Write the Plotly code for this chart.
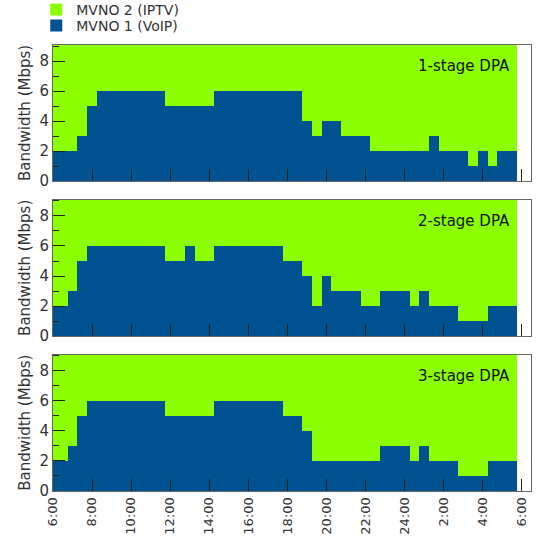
import plotly.graph_objects as go

# Half-hour slots centred at 6:00, 6:30, ... 5:30 (hours after 6:00)
slot_hours = [i * 0.5 for i in range(48)]

mvno1_stage1 = [2, 2, 2, 3, 5, 6, 6, 6, 6, 6, 6, 6,
                5, 5, 5, 5, 5, 6, 6, 6, 6, 6, 6, 6,
                6, 6, 4, 3, 4, 4, 3, 3, 3, 2, 2, 2,
                2, 2, 2, 3, 2, 2, 2, 1, 2, 1, 2, 2]
mvno1_stage2 = [2, 2, 3, 5, 6, 6, 6, 6, 6, 6, 6, 6,
                5, 5, 6, 5, 5, 6, 6, 6, 6, 6, 6, 6,
                5, 5, 4, 2, 4, 3, 3, 3, 2, 2, 3, 3,
                3, 2, 3, 2, 2, 2, 1, 1, 1, 2, 2, 2]
mvno1_stage3 = [2, 2, 3, 5, 6, 6, 6, 6, 6, 6, 6, 6,
                5, 5, 5, 5, 5, 6, 6, 6, 6, 6, 6, 6,
                5, 5, 4, 2, 2, 2, 2, 2, 2, 2, 3, 3,
                3, 2, 3, 2, 2, 2, 1, 1, 1, 2, 2, 2]
capacity = 9.1  # shared link capacity; MVNO 2 gets the remainder

panel_names = ["1-stage DPA", "2-stage DPA", "3-stage DPA"]
panels = [mvno1_stage1, mvno1_stage2, mvno1_stage3]

tick_hours = [0, 2, 4, 6, 8, 10, 12, 14, 16, 18, 20, 22, 24]
tick_labels = ["6:00", "8:00", "10:00", "12:00", "14:00", "16:00", "18:00",
               "20:00", "22:00", "24:00", "2:00", "4:00", "6:00"]
y_ticks = [0, 2, 4, 6, 8]

BLUE = "#005291"
GREEN = "#8cff00"
FONT = "DejaVu Sans"
TXT = "#333333"

# vertical domains (paper) for 3 panels
domains = [[0.6946, 1.0], [0.3473, 0.6527], [0.0, 0.3054]]

fig = go.Figure()
for i, vals in enumerate(panels):
    n = i + 1
    xa = "x" if n == 1 else f"x{n}"
    ya = "y" if n == 1 else f"y{n}"
    fig.add_trace(go.Bar(x=slot_hours, y=vals, width=0.5, marker=dict(color=BLUE, line=dict(width=0)),
                         name="MVNO 1 (VoIP)", legendgroup="m1", showlegend=(n == 1),
                         legend="legend2", xaxis=xa, yaxis=ya))
    fig.add_trace(go.Bar(x=slot_hours, y=[capacity - v for v in vals], width=0.5,
                         marker=dict(color=GREEN, line=dict(width=0)),
                         name="MVNO 2 (IPTV)", legendgroup="m2", showlegend=(n == 1),
                         legend="legend", xaxis=xa, yaxis=ya))

leg_common = dict(x=-0.035, xanchor="left", yanchor="middle",
                  font=dict(size=14, color=TXT, family=FONT), bgcolor="rgba(0,0,0,0)")
layout = dict(
    width=537, height=544,
    margin=dict(l=53, r=6, t=45, b=53, autoexpand=False),
    paper_bgcolor="white", plot_bgcolor="white",
    barmode="stack", bargap=0,
    font=dict(family=FONT, size=14, color=TXT),
    legend=dict(y=(491 - 10) / 446, **leg_common),
    legend2=dict(y=(491 - 26) / 446, **leg_common),
    showlegend=True,
)
annotations = []
for i in range(3):
    n = i + 1
    xk = "xaxis" if n == 1 else f"xaxis{n}"
    yk = "yaxis" if n == 1 else f"yaxis{n}"
    ya = "y" if n == 1 else f"y{n}"
    xa = "x" if n == 1 else f"x{n}"
    layout[xk] = dict(domain=[0, 1], anchor=ya, range=[0, 24.47], tickvals=tick_hours,
                      ticktext=tick_labels, showticklabels=(n == 3), tickangle=-90,
                      ticks="inside", ticklen=12, tickcolor="#222222", tickwidth=1,
                      showline=True, mirror=True, linecolor="#666666", linewidth=1,
                      showgrid=False, zeroline=False, fixedrange=True,
                      tickfont=dict(size=13, color=TXT, family=FONT))
    layout[yk] = dict(domain=domains[i], anchor=xa, range=[0, 9.07], tickvals=y_ticks,
                      ticks="inside", ticklen=12, tickcolor="#222222", tickwidth=1,
                      minor=dict(dtick=1, tick0=0, ticks="inside", ticklen=6, tickcolor="#222222"),
                      showline=True, mirror=True, linecolor="#666666", linewidth=1,
                      showgrid=False, zeroline=False, fixedrange=True,
                      tickfont=dict(size=15, color=TXT, family=FONT))
    annotations.append(dict(text=panel_names[i], xref=xa, yref=ya, x=23.51, y=7.64,
                            xanchor="right", yanchor="middle", showarrow=False,
                            font=dict(size=15, color="#111111", family=FONT)))
    annotations.append(dict(text="Bandwidth (Mbps)", xref="paper", yref=f"{ya} domain",
                            x=-0.0588, y=0.5, xanchor="center", yanchor="middle",
                            textangle=-90, showarrow=False,
                            font=dict(size=15, color=TXT, family=FONT)))
layout["annotations"] = annotations
fig.update_layout(**layout)

fig.write_html("out.html")
